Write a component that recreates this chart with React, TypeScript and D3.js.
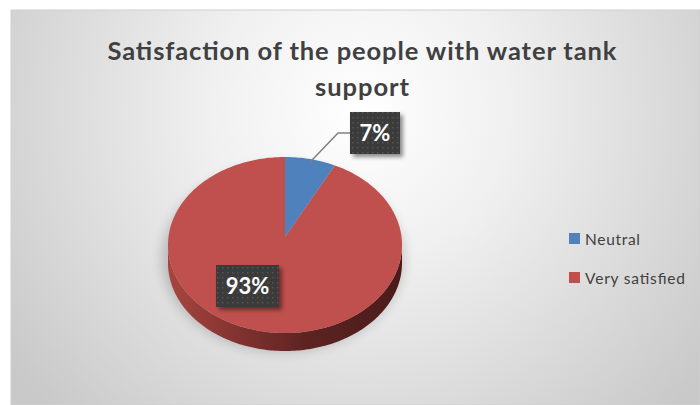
import React from 'react';
import * as d3 from 'd3';

const categories = ['Neutral', 'Very satisfied'];
const values = [7, 93];
const labels = ['7%', '93%'];
const colors = ['#4f81bd', '#c0504d'];
const titleLines = ['Satisfaction of the people with water tank', 'support'];

export default function App() {
  const W = 700, H = 405;
  const cx = 285, cy = 245, rx = 117, ry = 88, depth = 18;
  const apex: [number, number] = [285, 237];
  const pie = d3.pie<number>().sort(null).value(d => d);
  const arcs = pie(values);
  const pt = (a: number, dy = 0): [number, number] => [cx + rx * Math.sin(a), cy - ry * Math.cos(a) + dy];
  const sample = (a0: number, a1: number, dy = 0) => {
    const n = Math.max(2, Math.ceil(Math.abs(a1 - a0) / 0.02));
    return d3.range(n + 1).map(i => pt(a0 + (a1 - a0) * i / n, dy));
  };
  const line = d3.line();
  const font = "Lato, 'Open Sans', sans-serif";

  const sides = arcs.map((a, i) => {
    const s0 = Math.max(a.startAngle, Math.PI / 2);
    const s1 = Math.min(a.endAngle, Math.PI * 1.5);
    if (s1 <= s0) return null;
    const pts = [...sample(s0, s1, 0), ...sample(s1, s0, depth)];
    return <path key={'s' + i} d={line(pts) + 'Z'} fill={i === 1 ? 'url(#sideRed)' : 'url(#sideBlue)'} />;
  });

  const tops = arcs.map((a, i) => {
    const pts = [apex, ...sample(a.startAngle, a.endAngle, 0)];
    return <path key={'t' + i} d={line(pts) + 'Z'} fill={colors[i]} />;
  });

  const a0 = arcs[0];
  const mid0 = (a0.startAngle + a0.endAngle) / 2;
  const edge0 = pt(mid0);
  const lstart: [number, number] = [apex[0] + (edge0[0] - apex[0]) * 0.95, apex[1] + (edge0[1] - apex[1]) * 0.95];
  const labelBoxes = [
    { x: 350, y: 112, w: 50, h: 42 },
    { x: 216, y: 265, w: 63, h: 42 },
  ];
  const titleWidths = [509, 94];
  const legendWidths = [55, 100];

  return (
    <svg width={W} height={H} style={{ position: 'absolute', left: 0, top: 0 }}>
      <defs>
        <radialGradient id="bg" gradientUnits="userSpaceOnUse" cx={360} cy={110} r={430}>
          <stop offset="0" stopColor="#ffffff" />
          <stop offset="0.35" stopColor="#f0f0f0" />
          <stop offset="1" stopColor="#c9c9c9" />
        </radialGradient>
        <linearGradient id="sideRed" gradientUnits="userSpaceOnUse" x1={cx - rx} x2={cx + rx} y1={0} y2={0}>
          <stop offset="0" stopColor="#a8453f" />
          <stop offset="0.3" stopColor="#823230" />
          <stop offset="0.6" stopColor="#5c2321" />
          <stop offset="1" stopColor="#4a1b1a" />
        </linearGradient>
        <linearGradient id="sideBlue" gradientUnits="userSpaceOnUse" x1={cx - rx} x2={cx + rx} y1={0} y2={0}>
          <stop offset="0" stopColor="#3f6796" />
          <stop offset="1" stopColor="#253d5a" />
        </linearGradient>
        <pattern id="dots" width={5} height={5} patternUnits="userSpaceOnUse">
          <rect width={5} height={5} fill="#3b3b3b" />
          <rect x={2} y={2} width={1.4} height={1.4} fill="#575757" />
        </pattern>
        <filter id="shadow" x="-30%" y="-30%" width="160%" height="160%">
          <feDropShadow dx={3} dy={3} stdDeviation={2} floodColor="#000" floodOpacity={0.45} />
        </filter>
        <filter id="blur" x="-30%" y="-30%" width="160%" height="160%">
          <feGaussianBlur stdDeviation={6} />
        </filter>
      </defs>
      <rect x={11} y={10} width={W - 11} height={H - 10} fill="url(#bg)" stroke="#cfcfcf" strokeWidth={1} />
      {titleLines.map((t, i) => (
        <text key={t} x={362} y={60 + i * 36} textAnchor="middle" fontFamily={font} fontWeight={700} fontSize={25.5}
          fill="#404040" textLength={titleWidths[i]} lengthAdjust="spacing">{t}</text>
      ))}
      <ellipse cx={cx - 2} cy={cy + depth / 2 + 4} rx={rx + 4} ry={ry + 6} fill="#000" opacity={0.18} filter="url(#blur)" />
      {sides}
      {tops}
      <path d={line([lstart, [338, 133], [350, 133]]) || ''} fill="none" stroke="#808080" strokeWidth={1.5} />
      {labels.map((l, i) => {
        const b = labelBoxes[i];
        return (
          <g key={l}>
            <rect x={b.x} y={b.y} width={b.w} height={b.h} fill="url(#dots)" filter="url(#shadow)" />
            <text x={b.x + b.w / 2} y={b.y + b.h / 2 + 8} textAnchor="middle" fontFamily={font} fontWeight={700} fontSize={22} fill="#ffffff">{l}</text>
          </g>
        );
      })}
      {categories.map((c, i) => (
        <g key={c}>
          <rect x={569} y={233 + i * 39} width={11} height={11} fill={colors[i]} />
          <text x={585} y={244.5 + i * 39} fontFamily={font} fontSize={15.5} fill="#404040"
            textLength={legendWidths[i]} lengthAdjust="spacing">{c}</text>
        </g>
      ))}
    </svg>
  );
}
